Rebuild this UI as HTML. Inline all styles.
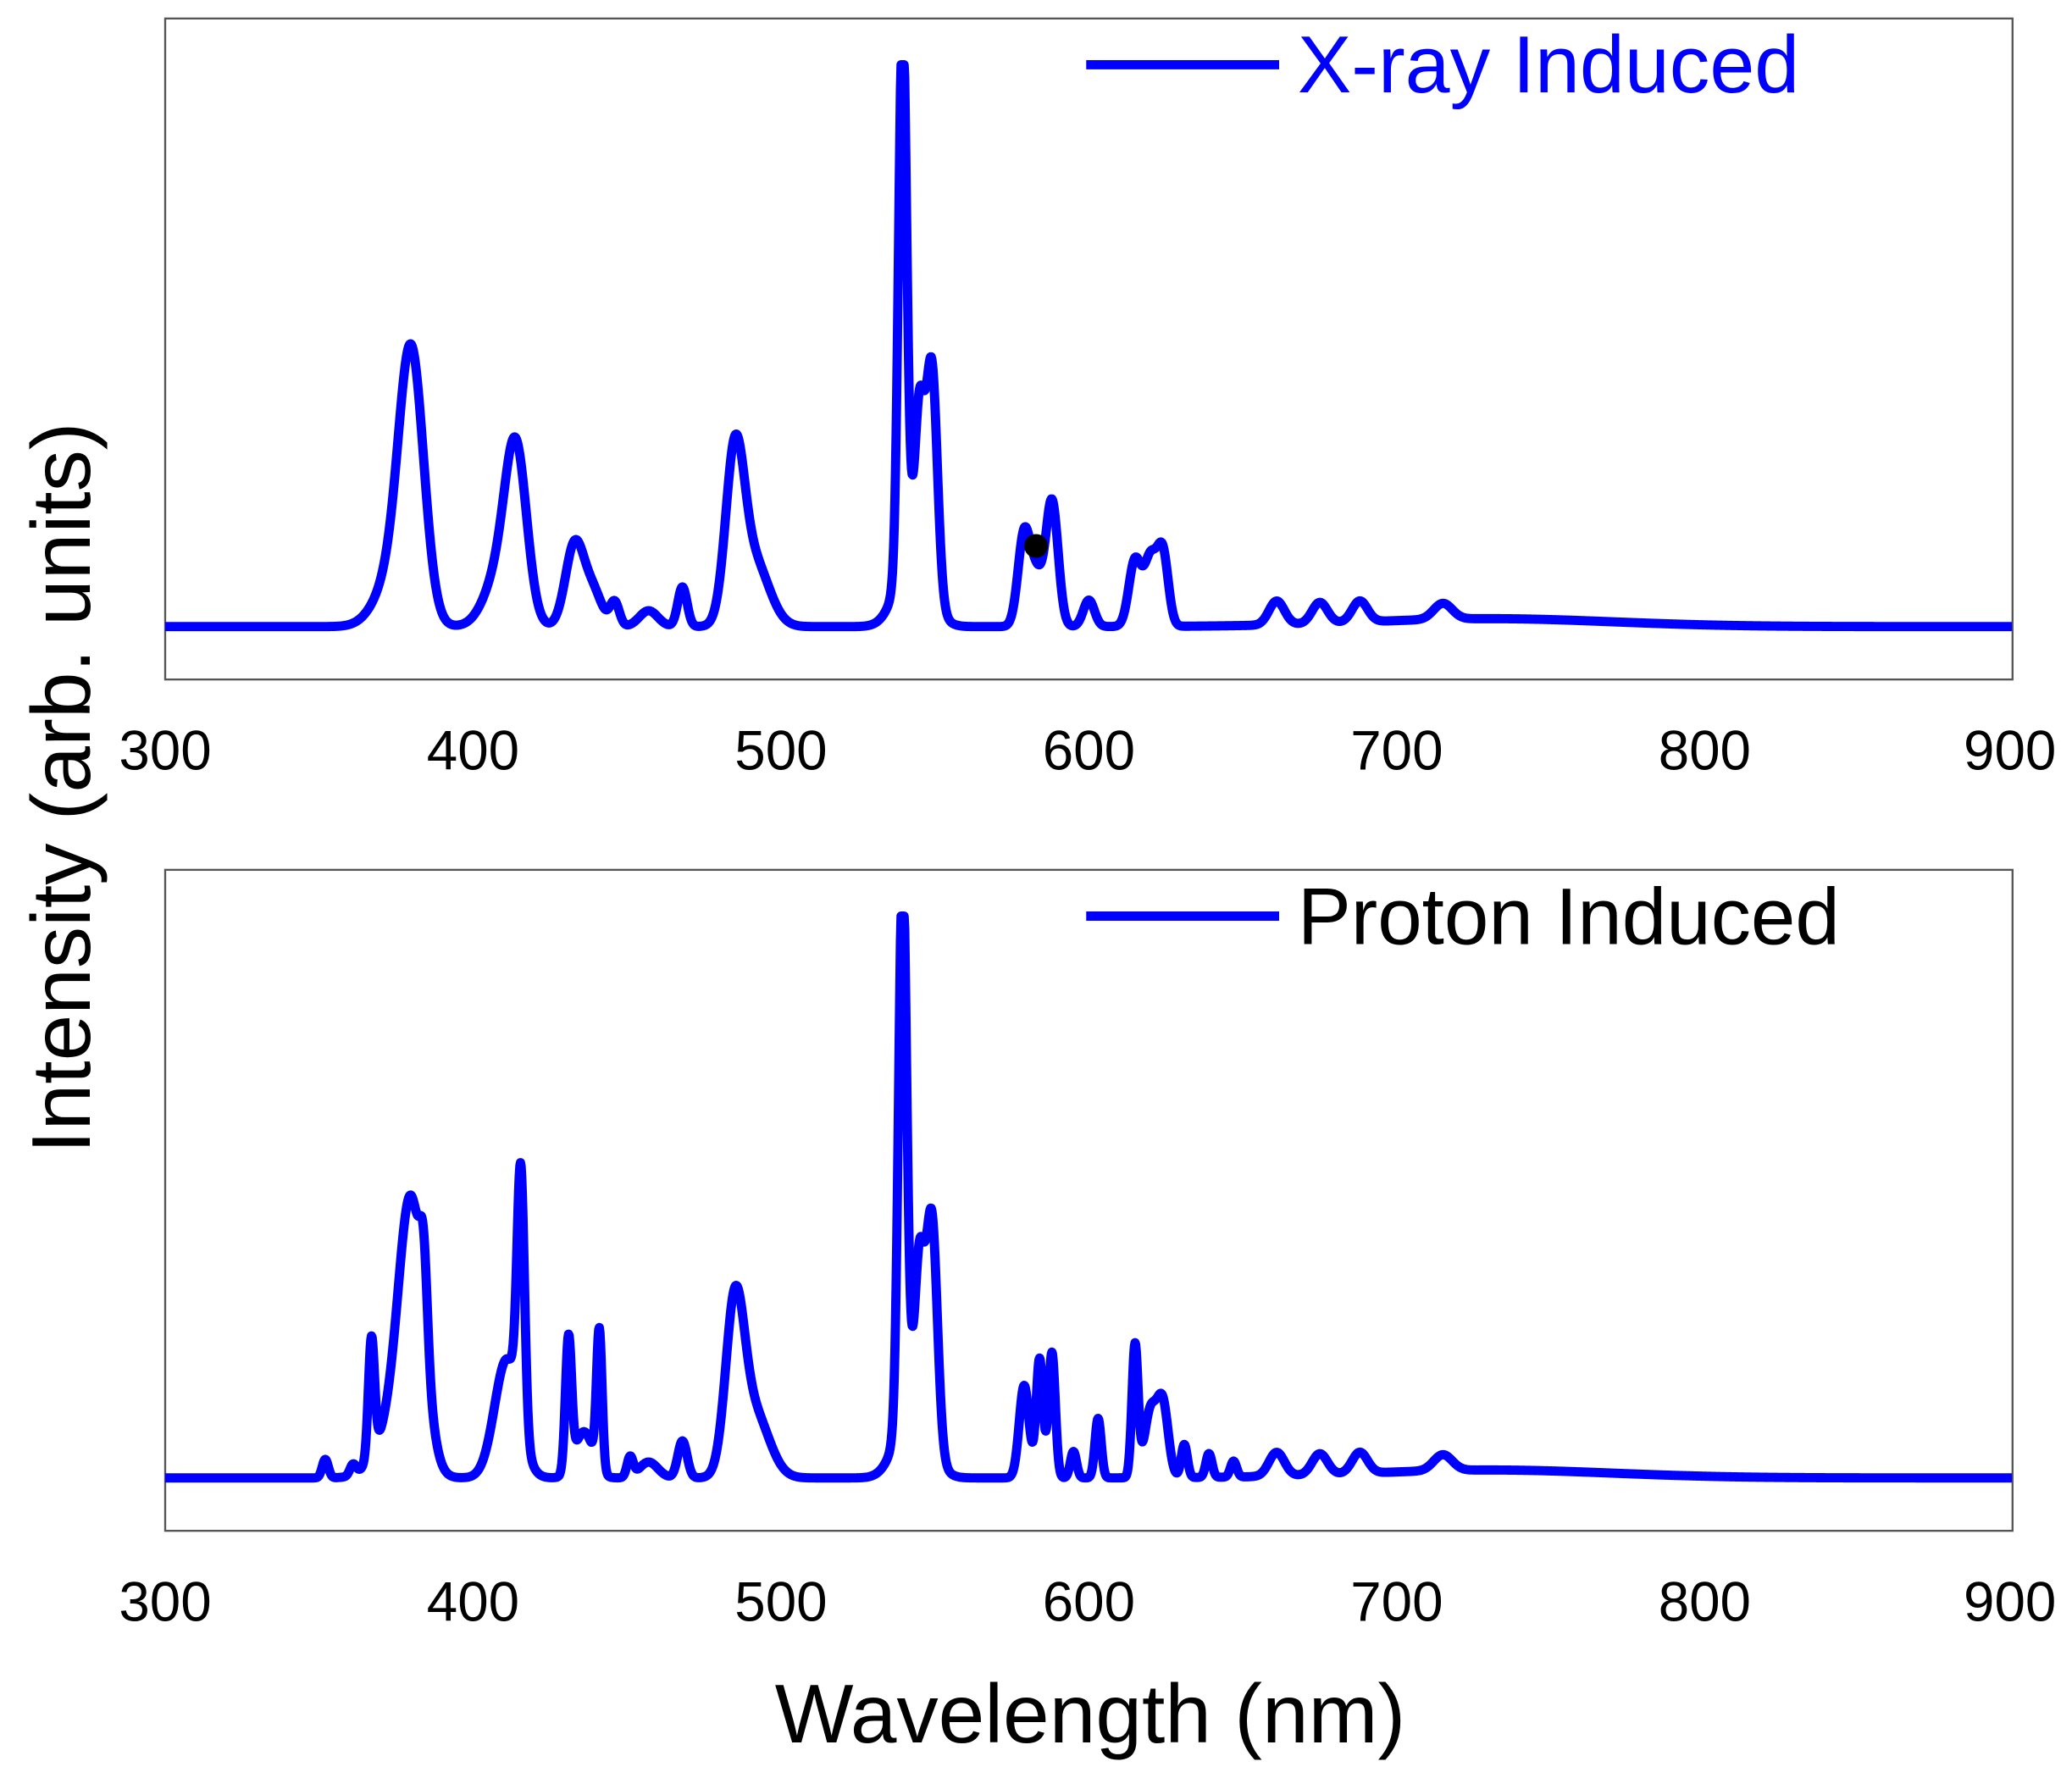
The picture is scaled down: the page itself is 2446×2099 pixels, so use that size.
<!DOCTYPE html>
<html><head><meta charset="utf-8"><style>html,body{margin:0;padding:0;background:#fff}svg{display:block}</style></head>
<body>
<svg id="s" width="2446" height="2099" viewBox="0 0 1568 1345" preserveAspectRatio="none" xmlns="http://www.w3.org/2000/svg" font-family="Liberation Sans, Arial, sans-serif">
<rect x="125" y="14" width="1398" height="500" fill="none" stroke="#555" stroke-width="1.5"/>
<rect x="125" y="658" width="1398" height="500" fill="none" stroke="#555" stroke-width="1.5"/>
<g font-size="42" fill="#000" text-anchor="middle">
<text x="125" y="582">300</text><text x="358" y="582">400</text><text x="591" y="582">500</text><text x="824" y="582">600</text><text x="1057" y="582">700</text><text x="1290" y="582">800</text><text x="1521" y="582">900</text>
<text x="125" y="1226">300</text><text x="358" y="1226">400</text><text x="591" y="1226">500</text><text x="824" y="1226">600</text><text x="1057" y="1226">700</text><text x="1290" y="1226">800</text><text x="1521" y="1226">900</text>
</g>
<text x="825" y="1318" font-size="63" text-anchor="middle">Wavelength (nm)</text>
<text transform="translate(68,596) rotate(-90)" font-size="63" text-anchor="middle">Intensity (arb. units)</text>
<line x1="822" y1="49" x2="968" y2="49" stroke="#0000ff" stroke-width="7"/>
<text x="982" y="70" font-size="61" fill="#0000ff">X-ray Induced</text>
<line x1="822" y1="693" x2="968" y2="693" stroke="#0000ff" stroke-width="7"/>
<text x="982" y="714" font-size="60.5" fill="#000">Proton Induced</text>
<path id="p1" fill="none" stroke="#0000ff" stroke-width="7" stroke-linejoin="round"/>
<path id="p2" fill="none" stroke="#0000ff" stroke-width="7" stroke-linejoin="round"/>
<circle cx="784" cy="413" r="9" fill="#000"/>
</svg>
<script>
function G(x,c,h,w){var t=(x-c)/w;return h*Math.exp(-0.5*t*t);}
var pkA=[[380,185,4],[375,40,6],[414,118,3.5],[409,40,5],[433,62,3],[439,25,3],[446,18,1.5],[457,12,3],[468,30,1.5],[485,120,3],[491,50,5],[539.5,420,1.3],[545,110,1.5],[549,170,1.8],[543,60,5],[579,70,2],[583,35,2],[588,95,2],[600,20,1.8],[615,50,2],[620,50,2],[624,55,1.8],[661,18,2.5],[675,16,2.5],[688,16,2.5],[715,12,3],[730,6,40]];
var pkB=[[380,185,4],[375,40,6],[367,90,1],[384,60,1.2],[415.5,190,1.2],[411,90,4],[431,100,1],[436,35,3],[441,105,0.9],[352,14,1],[361,8,1],[451,15,1],[485,120,3],[491,50,5],[468,28,1.5],[457,12,3],[539.5,420,1.3],[545,110,1.5],[549,170,1.8],[543,60,5],[579,70,1.6],[584,90,1.1],[588,95,1.1],[595,20,1],[603,45,1],[615,100,1],[620,50,2],[624,55,1.8],[631,25,1],[639,18,1],[647,12,1],[661,18,2.5],[675,16,2.5],[688,16,2.5],[715,12,3],[730,6,40]];
function mk(pk,base){var d="";for(var x=300;x<=900;x+=0.2){var y=0;for(var i=0;i<pk.length;i++)y+=G(x,pk[i][0],pk[i][1],pk[i][2]);if(y>425)y=425;var px=125+(x-300)*1398/600;d+=(d?"L":"M")+px.toFixed(2)+" "+(base-y).toFixed(2);}return d;}
document.getElementById("p1").setAttribute("d",mk(pkA,474));
document.getElementById("p2").setAttribute("d",mk(pkB,1118));
</script>
</body></html>
